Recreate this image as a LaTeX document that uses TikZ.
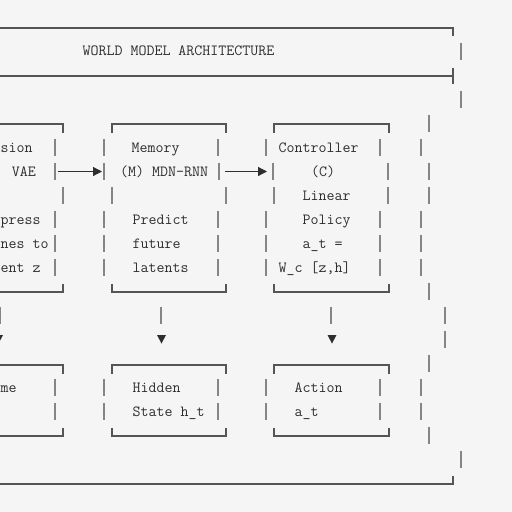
\documentclass[tikz,border=0pt]{standalone}
\usetikzlibrary{arrows.meta}
\definecolor{bg}{HTML}{F5F5F5}
\definecolor{ink}{HTML}{2E2E2E}
\definecolor{rule}{HTML}{555555}
\definecolor{barc}{HTML}{858585}
\begin{document}
\begin{tikzpicture}[x=1pt,y=-1pt,
  txt/.style={font=\ttfamily\fontsize{15.5}{18}\selectfont, text=ink, inner sep=0pt, anchor=base west},
  txtr/.style={txt, anchor=base east},
  hline/.style={draw=rule, line width=1.3pt},
  vbarline/.style={draw=barc, line width=1.2pt},
  arr/.style={draw=ink, line width=1.2pt, -{Triangle[length=9pt,width=9pt]}},
  downtip/.style={fill=ink},
]
\useasboundingbox[fill=bg] (0,0) rectangle (512,512);

% outer frame lines
\draw[hline] (0,28) -- (453,28) -- (453,36);
\draw[hline] (0,76) -- (453,76);
\draw[hline] (453,67.5) -- (453,84);
\draw[hline] (0,484) -- (453,484) -- (453,475.5);

% title
\node[txt] (title) at (82.5,55) {WORLD MODEL ARCHITECTURE};

% vertical bars: x / row-centre y
\foreach \x/\y in {461/52, 461/100, 429/124,
  55/148, 104/148, 218/148, 266/148, 380/148, 421/148,
  55/172, 104/172, 219/172, 273/172, 388/172, 429/172,
  63/196, 112/196, 226/196, 274/196, 388/196, 429/196,
  55/220, 104/220, 218/220, 266/220, 380/220, 421/220,
  55/244, 104/244, 218/244, 266/244, 380/244, 421/244,
  55/268, 104/268, 218/268, 266/268, 380/268, 421/268,
  429/292,
  0.3/316, 161/316, 331/316, 445/316,
  445/340,
  429/364,
  55/388, 104/388, 218/388, 266/388, 380/388, 421/388,
  55/412, 104/412, 218/412, 266/412, 380/412, 421/412,
  429/436, 461/460}
  \draw[vbarline] (\x,\y-9.5) -- (\x,\y+8);

% box tops and bottoms (upper row)
\draw[hline] (0,124) -- (63,124) -- (63,132.5);
\draw[hline] (112,132.5) -- (112,124) -- (226,124) -- (226,132.5);
\draw[hline] (274,132.5) -- (274,124) -- (389,124) -- (389,132.5);
\draw[hline] (0,292) -- (63,292) -- (63,283.5);
\draw[hline] (112,283.5) -- (112,292) -- (226,292) -- (226,283.5);
\draw[hline] (274,283.5) -- (274,292) -- (389,292) -- (389,283.5);

% box tops and bottoms (lower row)
\draw[hline] (0,365) -- (63,365) -- (63,373.5);
\draw[hline] (112,373.5) -- (112,365) -- (226,365) -- (226,373.5);
\draw[hline] (274,373.5) -- (274,365) -- (389,365) -- (389,373.5);
\draw[hline] (0,436) -- (63,436) -- (63,427.5);
\draw[hline] (112,427.5) -- (112,436) -- (226,436) -- (226,427.5);
\draw[hline] (274,427.5) -- (274,436) -- (389,436) -- (389,427.5);

% texts, vision column (at the left edge)
\node[txt] (v1) at (0.5,152) {sion};
\node[txtr] (v2) at (36,176) {VAE};
\node[txt] (v3) at (0.5,224) {press};
\node[txt] (v4) at (0.5,248) {nes to};
\node[txt] (v5) at (0.5,272) {ent z};
\node[txt] (f1) at (0.5,392) {me};

% memory column
\node[txt] (m1) at (131.5,152) {Memory};
\node[txt] (m2) at (120,176) {(M) MDN-RNN};
\node[txt] (m3) at (132.5,224) {Predict};
\node[txt] (m4) at (132.5,248) {future};
\node[txt] (m5) at (132.5,272) {latents};
\node[txt] (h1) at (132.5,392) {Hidden};
\node[txt] (h2) at (132.5,416) {State h\_t};

% controller column
\node[txt] (c1) at (278.5,152) {Controller};
\node[txt] (c2) at (311,176) {(C)};
\node[txt] (c3) at (302.5,200) {Linear};
\node[txt] (c4) at (302.5,224) {Policy};
\node[txt] (c5) at (302.5,248) {a\_t =};
\node[txt] (c6) at (278.5,272) {W\_c [z,h]};
\node[txt] (a1) at (294.5,392) {Action};
\node[txt] (a2) at (294.5,416) {a\_t};

% horizontal arrows
\coordinate (vout) at (58,171.5);
\coordinate (min) at (102,171.5);
\coordinate (mout) at (225,171.5);
\coordinate (cin) at (267,171.5);
\draw[arr] (vout) -- (min);
\draw[arr] (mout) -- (cin);

% downward tips
\foreach \x in {-1.5,161.5,332}
  \fill[downtip] (\x-4.5,335) -- (\x+4.5,335) -- (\x,343.5) -- cycle;
\end{tikzpicture}
\end{document}
